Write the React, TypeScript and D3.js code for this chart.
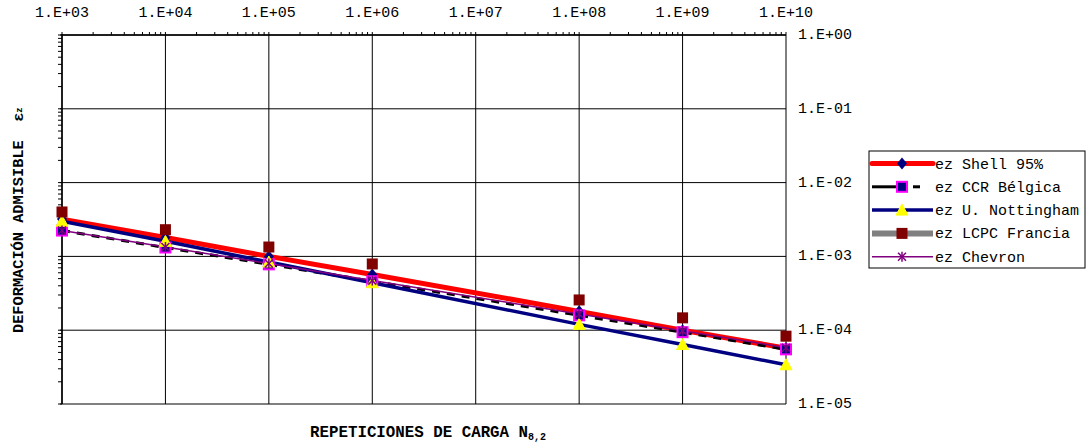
import React from 'react';
import * as d3 from 'd3';

// load repetitions (only the points that carry markers in the original)
const cycles = [1e3, 1e4, 1e5, 1e6, 1e8, 1e9, 1e10];

// admissible subgrade strain for each criterion
const shell95 = [3.2e-3, 1.8e-3, 1.0e-3, 5.7e-4, 1.8e-4, 1.0e-4, 5.7e-5];
const ccrBelgica = [2.24e-3, 1.32e-3, 7.8e-4, 4.6e-4, 1.59e-4, 9.4e-5, 5.5e-5];
const uNottingham = [3.0e-3, 1.6e-3, 8.4e-4, 4.4e-4, 1.2e-4, 6.4e-5, 3.4e-5];
const lcpcFrancia = [4.0e-3, 2.3e-3, 1.34e-3, 7.9e-4, 2.57e-4, 1.47e-4, 8.3e-5];
const chevron = [2.25e-3, 1.34e-3, 8.0e-4, 4.7e-4, 1.66e-4, 9.8e-5, 5.8e-5];

const xTickValues = [1e3, 1e4, 1e5, 1e6, 1e7, 1e8, 1e9, 1e10];
const xTickLabels = ['1.E+03', '1.E+04', '1.E+05', '1.E+06', '1.E+07', '1.E+08', '1.E+09', '1.E+10'];
const yTickValues = [1, 1e-1, 1e-2, 1e-3, 1e-4, 1e-5];
const yTickLabels = ['1.E+00', '1.E-01', '1.E-02', '1.E-03', '1.E-04', '1.E-05'];

const seriesNames = ['ez Shell 95%', 'ez CCR Bélgica', 'ez U. Nottingham', 'ez LCPC Francia', 'ez Chevron'];

const W = 1087;
const H = 443;
const FONT = '"Liberation Mono", "Courier New", monospace';

function Marker({ kind, x, y }) {
  if (kind === 0) {
    return <path d={`M${x},${y - 6}L${x + 5},${y}L${x},${y + 6}L${x - 5},${y}Z`} fill="#000080" />;
  }
  if (kind === 1) {
    return <rect x={x - 5} y={y - 5} width={10} height={10} fill="#000080" stroke="#FF00FF" strokeWidth={2} />;
  }
  if (kind === 2) {
    return <path d={`M${x},${y - 6}L${x + 6},${y + 5}L${x - 6},${y + 5}Z`} fill="#FFFF00" stroke="#FFFF00" strokeWidth={1} />;
  }
  if (kind === 3) {
    return <rect x={x - 5.5} y={y - 5.5} width={11} height={11} fill="#800000" />;
  }
  return (
    <g stroke="#800080" strokeWidth={1.5}>
      <line x1={x} y1={y - 5} x2={x} y2={y + 5} />
      <line x1={x - 4} y1={y - 4} x2={x + 4} y2={y + 4} />
      <line x1={x - 4} y1={y + 4} x2={x + 4} y2={y - 4} />
    </g>
  );
}

export default function App() {
  const x = d3.scaleLog().domain([1e3, 1e10]).range([62, 786]);
  const y = d3.scaleLog().domain([1, 1e-5]).range([35, 404]);

  const line = d3.line<number>()
    .x((_, i) => x(cycles[i]))
    .y(d => y(d));

  // line style per series; LCPC line is not visible in the plot
  const styles = [
    { data: shell95, stroke: '#FF0000', width: 5, dash: null, drawLine: true },
    { data: ccrBelgica, stroke: '#000000', width: 3, dash: '8,7', drawLine: true },
    { data: uNottingham, stroke: '#000080', width: 3.5, dash: null, drawLine: true },
    { data: lcpcFrancia, stroke: '#808080', width: 6, dash: null, drawLine: false },
    { data: chevron, stroke: '#800080', width: 1.5, dash: null, drawLine: true },
  ];

  const xMinor = x.ticks();
  const yMinor = y.ticks();

  const legendX = 869;
  const legendY = 151;
  const rowH = 23.3;

  return (
    <svg width={W} height={H} style={{ position: 'absolute', left: 0, top: 0, background: '#fff' }}>
      {/* gridlines */}
      {xTickValues.map(v => (
        <line key={'gx' + v} x1={x(v)} x2={x(v)} y1={y(1)} y2={y(1e-5)} stroke="#000" strokeWidth={1} />
      ))}
      {yTickValues.map(v => (
        <line key={'gy' + v} x1={x(1e3) - 2} x2={x(1e10)} y1={y(v)} y2={y(v)} stroke="#000" strokeWidth={1} />
      ))}
      {/* minor ticks, top and left, outward */}
      {xMinor.map((v, i) => (
        <line key={'tx' + i} x1={x(v)} x2={x(v)} y1={y(1)} y2={y(1) - 3} stroke="#000" />
      ))}
      {yMinor.map((v, i) => (
        <line key={'ty' + i} x1={x(1e3)} x2={x(1e3) - 4} y1={y(v)} y2={y(v)} stroke="#000" />
      ))}
      <line x1={x(1e3)} x2={x(1e3)} y1={y(1) - 1} y2={y(1e-5)} stroke="#000" strokeWidth={1.5} />
      <line x1={x(1e3)} x2={x(1e10)} y1={y(1)} y2={y(1)} stroke="#000" strokeWidth={1.5} />

      {/* tick labels */}
      {xTickValues.map((v, i) => (
        <text key={'lx' + v} x={x(v)} y={17} textAnchor="middle" fontFamily={FONT} fontSize={15}>{xTickLabels[i]}</text>
      ))}
      {yTickValues.map((v, i) => (
        <text key={'ly' + v} x={798} y={y(v) + 4} fontFamily={FONT} fontSize={15}>{yTickLabels[i]}</text>
      ))}

      {/* series lines */}
      {styles.map((s, i) => s.drawLine && (
        <path key={'s' + i} d={line(s.data) || ''} fill="none" stroke={s.stroke} strokeWidth={s.width}
          strokeDasharray={s.dash || undefined} />
      ))}
      {/* markers */}
      {styles.map((s, i) => (
        <g key={'m' + i}>
          {s.data.map((v, j) => <Marker key={j} kind={i} x={x(cycles[j])} y={y(v)} />)}
        </g>
      ))}

      {/* axis titles */}
      <text x={310} y={437} fontFamily={FONT} fontSize={15.8} fontWeight="bold">
        REPETICIONES DE CARGA N<tspan fontSize={10} dy={3}>8,2</tspan>
      </text>
      <text transform="translate(23,333) rotate(-90)" fontFamily={FONT} fontSize={15.3} fontWeight="bold"
        style={{ whiteSpace: 'pre' }}>
        {'DEFORMACIÓN ADMISIBLE  ε'}<tspan fontSize={9} dy={-1}>z</tspan>
      </text>

      {/* legend */}
      <rect x={legendX} y={legendY} width={216} height={117} fill="#fff" stroke="#000" strokeWidth={1} />
      {styles.map((s, i) => {
        const cy = legendY + 12.5 + i * rowH;
        return (
          <g key={'lg' + i}>
            {i === 1 ? (
              <g>
                <line x1={872} x2={897} y1={cy} y2={cy} stroke="#000" strokeWidth={3} />
                <line x1={913} x2={920} y1={cy} y2={cy} stroke="#000" strokeWidth={3} />
              </g>
            ) : (
              <line x1={872} x2={933} y1={cy} y2={cy} stroke={s.stroke} strokeWidth={s.width}
                strokeLinecap={i === 0 ? 'round' : 'butt'} />
            )}
            <Marker kind={i} x={902} y={cy} />
            <text x={935} y={cy + 5} fontFamily={FONT} fontSize={15}>{seriesNames[i]}</text>
          </g>
        );
      })}
    </svg>
  );
}
